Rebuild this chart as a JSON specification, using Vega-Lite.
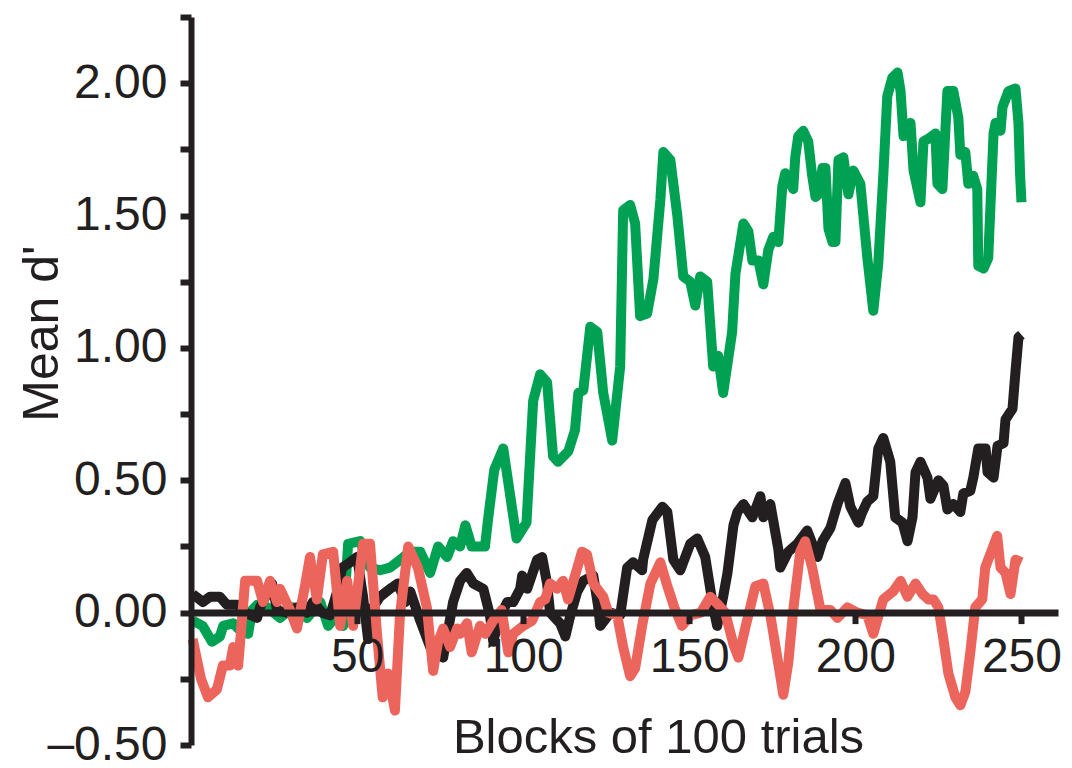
{
  "$schema": "https://vega.github.io/schema/vega-lite/v6.json",
  "autosize": "none",
  "width": 867,
  "height": 728,
  "padding": {"left": 191, "top": 17, "right": 14, "bottom": 23},
  "background": "white",
  "config": {"view": {"stroke": null}},
  "datasets": {
    "d": [
      {"s":"green","b":0.5,"v":-0.03},{"s":"green","b":3.5,"v":-0.05},{"s":"green","b":6.3,"v":-0.11},{"s":"green","b":8.7,"v":-0.09},{"s":"green","b":9.7,"v":-0.05},{"s":"green","b":12.7,"v":-0.04},{"s":"green","b":14.2,"v":-0.06},{"s":"green","b":17.2,"v":-0.08},{"s":"green","b":18.4,"v":0.01},{"s":"green","b":20,"v":0.03},{"s":"green","b":23,"v":0.02},{"s":"green","b":26.8,"v":-0.02},{"s":"green","b":30.7,"v":0.02},{"s":"green","b":34.9,"v":-0.02},{"s":"green","b":38.9,"v":0.04},{"s":"green","b":41.3,"v":-0.05},{"s":"green","b":44,"v":-0.01},{"s":"green","b":45.8,"v":-0.05},{"s":"green","b":47.3,"v":0.26},{"s":"green","b":50.9,"v":0.27},{"s":"green","b":53.9,"v":0.17},{"s":"green","b":56.9,"v":0.16},{"s":"green","b":59.9,"v":0.17},{"s":"green","b":63,"v":0.2},{"s":"green","b":66,"v":0.23},{"s":"green","b":69,"v":0.23},{"s":"green","b":72,"v":0.15},{"s":"green","b":74.4,"v":0.25},{"s":"green","b":77.1,"v":0.21},{"s":"green","b":78.9,"v":0.27},{"s":"green","b":81,"v":0.25},{"s":"green","b":82.6,"v":0.33},{"s":"green","b":84.5,"v":0.25},{"s":"green","b":88.5,"v":0.25},{"s":"green","b":89.5,"v":0.36},{"s":"green","b":91.3,"v":0.54},{"s":"green","b":94,"v":0.62},{"s":"green","b":98,"v":0.28},{"s":"green","b":101,"v":0.34},{"s":"green","b":103,"v":0.8},{"s":"green","b":105.1,"v":0.9},{"s":"green","b":107.2,"v":0.87},{"s":"green","b":109,"v":0.59},{"s":"green","b":110.5,"v":0.57},{"s":"green","b":113.6,"v":0.61},{"s":"green","b":115.6,"v":0.69},{"s":"green","b":116.6,"v":0.83},{"s":"green","b":118.1,"v":0.84},{"s":"green","b":120.2,"v":1.08},{"s":"green","b":122.3,"v":1.06},{"s":"green","b":124.1,"v":0.83},{"s":"green","b":126.8,"v":0.65},{"s":"green","b":129.2,"v":0.93},{"s":"green","b":130.1,"v":1.52},{"s":"green","b":132.2,"v":1.54},{"s":"green","b":133.7,"v":1.47},{"s":"green","b":135.2,"v":1.12},{"s":"green","b":137.3,"v":1.13},{"s":"green","b":139.2,"v":1.26},{"s":"green","b":141.3,"v":1.56},{"s":"green","b":142.2,"v":1.74},{"s":"green","b":144.3,"v":1.71},{"s":"green","b":146.4,"v":1.5},{"s":"green","b":148.2,"v":1.27},{"s":"green","b":150.3,"v":1.25},{"s":"green","b":151.8,"v":1.16},{"s":"green","b":153.3,"v":1.27},{"s":"green","b":155.4,"v":1.25},{"s":"green","b":157.2,"v":0.93},{"s":"green","b":158.7,"v":0.97},{"s":"green","b":160.2,"v":0.83},{"s":"green","b":162.9,"v":1.06},{"s":"green","b":163.9,"v":1.28},{"s":"green","b":166.3,"v":1.47},{"s":"green","b":167.8,"v":1.44},{"s":"green","b":169,"v":1.33},{"s":"green","b":170.8,"v":1.33},{"s":"green","b":172.3,"v":1.24},{"s":"green","b":173.8,"v":1.37},{"s":"green","b":175.3,"v":1.42},{"s":"green","b":176.8,"v":1.4},{"s":"green","b":178,"v":1.61},{"s":"green","b":178.9,"v":1.66},{"s":"green","b":181.3,"v":1.6},{"s":"green","b":181.9,"v":1.72},{"s":"green","b":182.8,"v":1.8},{"s":"green","b":184.3,"v":1.82},{"s":"green","b":185.8,"v":1.78},{"s":"green","b":187,"v":1.65},{"s":"green","b":188,"v":1.57},{"s":"green","b":188.9,"v":1.58},{"s":"green","b":190.1,"v":1.68},{"s":"green","b":191,"v":1.68},{"s":"green","b":191.9,"v":1.45},{"s":"green","b":193.1,"v":1.4},{"s":"green","b":194,"v":1.4},{"s":"green","b":194.9,"v":1.71},{"s":"green","b":196.4,"v":1.72},{"s":"green","b":197.9,"v":1.58},{"s":"green","b":199.4,"v":1.67},{"s":"green","b":201.5,"v":1.62},{"s":"green","b":203.6,"v":1.34},{"s":"green","b":205.4,"v":1.14},{"s":"green","b":206.9,"v":1.32},{"s":"green","b":208.4,"v":1.65},{"s":"green","b":209.6,"v":1.95},{"s":"green","b":211.1,"v":2.02},{"s":"green","b":212.7,"v":2.04},{"s":"green","b":213.6,"v":1.97},{"s":"green","b":214.5,"v":1.8},{"s":"green","b":216.6,"v":1.85},{"s":"green","b":217.5,"v":1.67},{"s":"green","b":219.6,"v":1.55},{"s":"green","b":220.5,"v":1.78},{"s":"green","b":222,"v":1.79},{"s":"green","b":224.1,"v":1.81},{"s":"green","b":224.7,"v":1.62},{"s":"green","b":226.2,"v":1.6},{"s":"green","b":227.7,"v":1.97},{"s":"green","b":229.5,"v":1.97},{"s":"green","b":231,"v":1.87},{"s":"green","b":231.6,"v":1.73},{"s":"green","b":233.1,"v":1.74},{"s":"green","b":234,"v":1.62},{"s":"green","b":235.5,"v":1.65},{"s":"green","b":236.7,"v":1.6},{"s":"green","b":237,"v":1.31},{"s":"green","b":238.6,"v":1.3},{"s":"green","b":240,"v":1.34},{"s":"green","b":241.6,"v":1.81},{"s":"green","b":242.2,"v":1.85},{"s":"green","b":243.7,"v":1.82},{"s":"green","b":244.3,"v":1.91},{"s":"green","b":246.1,"v":1.97},{"s":"green","b":248.2,"v":1.98},{"s":"green","b":249.1,"v":1.85},{"s":"green","b":249.6,"v":1.65},{"s":"green","b":250,"v":1.55},
      {"s":"black","b":0.5,"v":0.07},{"s":"black","b":3.6,"v":0.04},{"s":"black","b":5.7,"v":0.06},{"s":"black","b":8.7,"v":0.06},{"s":"black","b":10.8,"v":0.03},{"s":"black","b":13.9,"v":0.03},{"s":"black","b":16.3,"v":0.0},{"s":"black","b":19.9,"v":-0.02},{"s":"black","b":20.8,"v":0.02},{"s":"black","b":24.4,"v":0.11},{"s":"black","b":25.9,"v":0.01},{"s":"black","b":28.9,"v":0.0},{"s":"black","b":31.9,"v":0.02},{"s":"black","b":34.9,"v":0.0},{"s":"black","b":36.7,"v":0.04},{"s":"black","b":39.5,"v":0.0},{"s":"black","b":41.9,"v":-0.01},{"s":"black","b":44,"v":0.08},{"s":"black","b":45.5,"v":0.17},{"s":"black","b":47.9,"v":0.19},{"s":"black","b":50,"v":0.21},{"s":"black","b":51.8,"v":0.06},{"s":"black","b":53.3,"v":-0.1},{"s":"black","b":54.8,"v":0.02},{"s":"black","b":56.9,"v":0.06},{"s":"black","b":59.9,"v":0.09},{"s":"black","b":62.3,"v":0.11},{"s":"black","b":64.5,"v":0.04},{"s":"black","b":66,"v":0.08},{"s":"black","b":69,"v":-0.03},{"s":"black","b":72,"v":-0.13},{"s":"black","b":75.9,"v":-0.17},{"s":"black","b":78.9,"v":0.04},{"s":"black","b":81,"v":0.12},{"s":"black","b":83,"v":0.15},{"s":"black","b":85,"v":0.11},{"s":"black","b":88,"v":0.09},{"s":"black","b":90,"v":-0.01},{"s":"black","b":91,"v":-0.11},{"s":"black","b":92.5,"v":-0.03},{"s":"black","b":95.2,"v":0.04},{"s":"black","b":97,"v":0.04},{"s":"black","b":99.1,"v":0.09},{"s":"black","b":99.7,"v":0.14},{"s":"black","b":101.2,"v":0.09},{"s":"black","b":104.2,"v":0.2},{"s":"black","b":105.7,"v":0.21},{"s":"black","b":107.2,"v":0.11},{"s":"black","b":108.1,"v":0.0},{"s":"black","b":111.1,"v":-0.04},{"s":"black","b":112.7,"v":-0.09},{"s":"black","b":114.2,"v":-0.01},{"s":"black","b":116.3,"v":0.08},{"s":"black","b":118.1,"v":0.12},{"s":"black","b":121.1,"v":0.14},{"s":"black","b":122.6,"v":0.02},{"s":"black","b":123.2,"v":-0.05},{"s":"black","b":126.2,"v":0.0},{"s":"black","b":129.2,"v":-0.01},{"s":"black","b":131.3,"v":0.17},{"s":"black","b":133.1,"v":0.19},{"s":"black","b":135.8,"v":0.16},{"s":"black","b":136.1,"v":0.2},{"s":"black","b":138.9,"v":0.35},{"s":"black","b":141.9,"v":0.4},{"s":"black","b":143.4,"v":0.38},{"s":"black","b":145.2,"v":0.2},{"s":"black","b":147.3,"v":0.16},{"s":"black","b":150.3,"v":0.26},{"s":"black","b":152.4,"v":0.28},{"s":"black","b":154.8,"v":0.21},{"s":"black","b":157.2,"v":0.02},{"s":"black","b":158.4,"v":-0.05},{"s":"black","b":160.2,"v":0.06},{"s":"black","b":161.5,"v":0.15},{"s":"black","b":163.3,"v":0.33},{"s":"black","b":164.5,"v":0.38},{"s":"black","b":166.3,"v":0.41},{"s":"black","b":169,"v":0.36},{"s":"black","b":171.4,"v":0.44},{"s":"black","b":172.3,"v":0.36},{"s":"black","b":174.4,"v":0.41},{"s":"black","b":176.8,"v":0.24},{"s":"black","b":177.4,"v":0.17},{"s":"black","b":179.8,"v":0.23},{"s":"black","b":182.5,"v":0.26},{"s":"black","b":185.5,"v":0.31},{"s":"black","b":188.6,"v":0.21},{"s":"black","b":190.1,"v":0.27},{"s":"black","b":192.5,"v":0.32},{"s":"black","b":194.6,"v":0.41},{"s":"black","b":197,"v":0.49},{"s":"black","b":198.5,"v":0.4},{"s":"black","b":200.9,"v":0.34},{"s":"black","b":202.1,"v":0.38},{"s":"black","b":203.6,"v":0.42},{"s":"black","b":205.4,"v":0.44},{"s":"black","b":206.9,"v":0.62},{"s":"black","b":208.4,"v":0.66},{"s":"black","b":210.5,"v":0.57},{"s":"black","b":212,"v":0.36},{"s":"black","b":214.2,"v":0.34},{"s":"black","b":215.7,"v":0.27},{"s":"black","b":217.2,"v":0.36},{"s":"black","b":218.1,"v":0.53},{"s":"black","b":219.6,"v":0.57},{"s":"black","b":221.7,"v":0.51},{"s":"black","b":222.6,"v":0.43},{"s":"black","b":225,"v":0.5},{"s":"black","b":226.5,"v":0.48},{"s":"black","b":227.7,"v":0.39},{"s":"black","b":229.5,"v":0.41},{"s":"black","b":231.6,"v":0.38},{"s":"black","b":232.5,"v":0.45},{"s":"black","b":234.6,"v":0.46},{"s":"black","b":235.5,"v":0.51},{"s":"black","b":237,"v":0.62},{"s":"black","b":239.2,"v":0.62},{"s":"black","b":239.8,"v":0.53},{"s":"black","b":241.6,"v":0.51},{"s":"black","b":242.8,"v":0.63},{"s":"black","b":244.6,"v":0.64},{"s":"black","b":245.2,"v":0.73},{"s":"black","b":247.3,"v":0.77},{"s":"black","b":248.2,"v":0.91},{"s":"black","b":249.1,"v":1.04},{"s":"black","b":250,"v":1.05},
      {"s":"red","b":0.5,"v":-0.1},{"s":"red","b":3,"v":-0.25},{"s":"red","b":5.1,"v":-0.32},{"s":"red","b":7.8,"v":-0.29},{"s":"red","b":9.6,"v":-0.2},{"s":"red","b":11.7,"v":-0.2},{"s":"red","b":12.7,"v":-0.13},{"s":"red","b":14.2,"v":-0.2},{"s":"red","b":16.3,"v":0.12},{"s":"red","b":19.9,"v":0.12},{"s":"red","b":21.7,"v":0.04},{"s":"red","b":23.8,"v":0.12},{"s":"red","b":25.9,"v":0.04},{"s":"red","b":26.8,"v":0.09},{"s":"red","b":29.8,"v":0.01},{"s":"red","b":31.9,"v":-0.06},{"s":"red","b":34.3,"v":0.1},{"s":"red","b":35.8,"v":0.21},{"s":"red","b":37.9,"v":0.05},{"s":"red","b":39.7,"v":0.22},{"s":"red","b":42.8,"v":0.23},{"s":"red","b":44.9,"v":-0.05},{"s":"red","b":47,"v":0.12},{"s":"red","b":48.8,"v":-0.05},{"s":"red","b":51.8,"v":0.26},{"s":"red","b":53.9,"v":0.26},{"s":"red","b":56,"v":-0.08},{"s":"red","b":57.7,"v":-0.32},{"s":"red","b":59.3,"v":-0.23},{"s":"red","b":61.4,"v":-0.37},{"s":"red","b":62.9,"v":-0.01},{"s":"red","b":65.4,"v":0.25},{"s":"red","b":68.3,"v":0.17},{"s":"red","b":71,"v":0.02},{"s":"red","b":72.9,"v":-0.22},{"s":"red","b":74.4,"v":-0.11},{"s":"red","b":75.9,"v":-0.06},{"s":"red","b":78,"v":-0.13},{"s":"red","b":80.1,"v":-0.06},{"s":"red","b":81,"v":-0.08},{"s":"red","b":83.1,"v":-0.04},{"s":"red","b":84.5,"v":-0.15},{"s":"red","b":87,"v":-0.05},{"s":"red","b":88.6,"v":-0.08},{"s":"red","b":91,"v":-0.03},{"s":"red","b":93.5,"v":0.01},{"s":"red","b":95.5,"v":-0.15},{"s":"red","b":97,"v":-0.08},{"s":"red","b":100,"v":-0.05},{"s":"red","b":102.7,"v":-0.03},{"s":"red","b":105.1,"v":0.04},{"s":"red","b":106.6,"v":0.05},{"s":"red","b":108.1,"v":0.11},{"s":"red","b":110.2,"v":0.09},{"s":"red","b":112,"v":0.12},{"s":"red","b":113.5,"v":0.05},{"s":"red","b":115.6,"v":0.14},{"s":"red","b":117.7,"v":0.23},{"s":"red","b":119.2,"v":0.22},{"s":"red","b":121.1,"v":0.11},{"s":"red","b":124.1,"v":0.06},{"s":"red","b":125.6,"v":0.0},{"s":"red","b":128.3,"v":-0.01},{"s":"red","b":130.1,"v":-0.13},{"s":"red","b":132.2,"v":-0.24},{"s":"red","b":133.7,"v":-0.21},{"s":"red","b":135.8,"v":-0.05},{"s":"red","b":138.3,"v":0.11},{"s":"red","b":141.3,"v":0.19},{"s":"red","b":143.4,"v":0.1},{"s":"red","b":145.5,"v":0.02},{"s":"red","b":147.8,"v":-0.05},{"s":"red","b":150.5,"v":-0.01},{"s":"red","b":153.5,"v":0.0},{"s":"red","b":156.3,"v":0.06},{"s":"red","b":158.7,"v":0.03},{"s":"red","b":160.8,"v":0.0},{"s":"red","b":163.3,"v":-0.12},{"s":"red","b":164.8,"v":-0.17},{"s":"red","b":167,"v":-0.05},{"s":"red","b":169.9,"v":0.1},{"s":"red","b":172.3,"v":0.11},{"s":"red","b":174.4,"v":-0.01},{"s":"red","b":176.5,"v":-0.17},{"s":"red","b":178.3,"v":-0.31},{"s":"red","b":179.8,"v":-0.19},{"s":"red","b":181.3,"v":0.01},{"s":"red","b":183.4,"v":0.23},{"s":"red","b":184.9,"v":0.27},{"s":"red","b":187,"v":0.17},{"s":"red","b":189.5,"v":0.01},{"s":"red","b":192.5,"v":0.01},{"s":"red","b":194.6,"v":-0.02},{"s":"red","b":197.6,"v":0.02},{"s":"red","b":200.6,"v":0.0},{"s":"red","b":203.6,"v":-0.01},{"s":"red","b":205.4,"v":-0.08},{"s":"red","b":208.4,"v":0.05},{"s":"red","b":211.4,"v":0.08},{"s":"red","b":213.6,"v":0.12},{"s":"red","b":215.7,"v":0.06},{"s":"red","b":218.1,"v":0.11},{"s":"red","b":220.2,"v":0.07},{"s":"red","b":222,"v":0.05},{"s":"red","b":223.5,"v":0.05},{"s":"red","b":225,"v":0.02},{"s":"red","b":226.5,"v":-0.1},{"s":"red","b":228,"v":-0.23},{"s":"red","b":230.1,"v":-0.32},{"s":"red","b":231.6,"v":-0.35},{"s":"red","b":233.1,"v":-0.3},{"s":"red","b":234.6,"v":-0.15},{"s":"red","b":236.1,"v":0.02},{"s":"red","b":238.2,"v":0.05},{"s":"red","b":239.1,"v":0.17},{"s":"red","b":241.2,"v":0.24},{"s":"red","b":242.7,"v":0.29},{"s":"red","b":243.7,"v":0.17},{"s":"red","b":245.2,"v":0.15},{"s":"red","b":246.7,"v":0.07},{"s":"red","b":248.2,"v":0.2},{"s":"red","b":250,"v":0.19}
    ]
  },
  "data": {"name": "d"},
  "encoding": {
    "x": {
      "field": "b", "type": "quantitative",
      "scale": {"domain": [0, 261], "nice": false, "zero": false},
      "axis": {
        "title": "Blocks of 100 trials",
        "orient": "bottom",
        "offset": -132.4,
        "zindex": 1,
        "grid": false,
        "values": [50, 100, 150, 200, 250],
        "domainColor": "#231f20", "domainWidth": 7,
        "tickColor": "#231f20", "tickWidth": 6, "tickSize": 11,
        "labelFont": "Liberation Sans", "labelFontSize": 48, "labelColor": "#231f20",
        "labelBaseline": "alphabetic", "labelPadding": 48, "labelAlign": "center",
        "labelOverlap": false, "labelFlush": false,
        "titleFont": "Liberation Sans", "titleFontSize": 49, "titleFontWeight": "normal", "titleColor": "#231f20",
        "titleX": 467, "titleY": 140, "titleAlign": "center", "titleBaseline": "alphabetic", "titleAngle": 0
      }
    },
    "y": {
      "field": "v", "type": "quantitative",
      "scale": {"domain": [-0.5, 2.25], "nice": false, "zero": false},
      "axis": {
        "title": "Mean d'",
        "zindex": 1,
        "grid": false,
        "values": [-0.5, -0.25, 0, 0.25, 0.5, 0.75, 1, 1.25, 1.5, 1.75, 2, 2.25],
        "labelExpr": "abs(datum.value * 2 - round(datum.value * 2)) > 0.001 ? '' : (datum.value < 0 ? '–' + format(-datum.value, '.2f') : format(datum.value, '.2f'))",
        "domainColor": "#231f20", "domainWidth": 6,
        "tickColor": "#231f20", "tickWidth": 6, "tickSize": 11,
        "labelFont": "Liberation Sans", "labelFontSize": 48, "labelColor": "#231f20",
        "labelPadding": 13, "labelAlign": "right", "labelBaseline": "middle",
        "labelOverlap": false, "labelFlush": false,
        "titleFont": "Liberation Sans", "titleFontSize": 50, "titleFontWeight": "normal", "titleColor": "#231f20",
        "titleAngle": 270, "titleX": -134, "titleY": 316, "titleAlign": "center", "titleBaseline": "alphabetic"
      }
    }
  },
  "layer": [
    {
      "transform": [{"filter": "datum.s === 'green'"}],
      "mark": {"type": "line", "color": "#00a153", "strokeWidth": 10, "strokeJoin": "round"}
    },
    {
      "transform": [{"filter": "datum.s === 'black'"}],
      "mark": {"type": "line", "color": "#231f20", "strokeWidth": 10, "strokeJoin": "round"}
    },
    {
      "transform": [{"filter": "datum.s === 'red'"}],
      "mark": {"type": "line", "color": "#ec655d", "strokeWidth": 10, "strokeJoin": "round"}
    }
  ]
}
